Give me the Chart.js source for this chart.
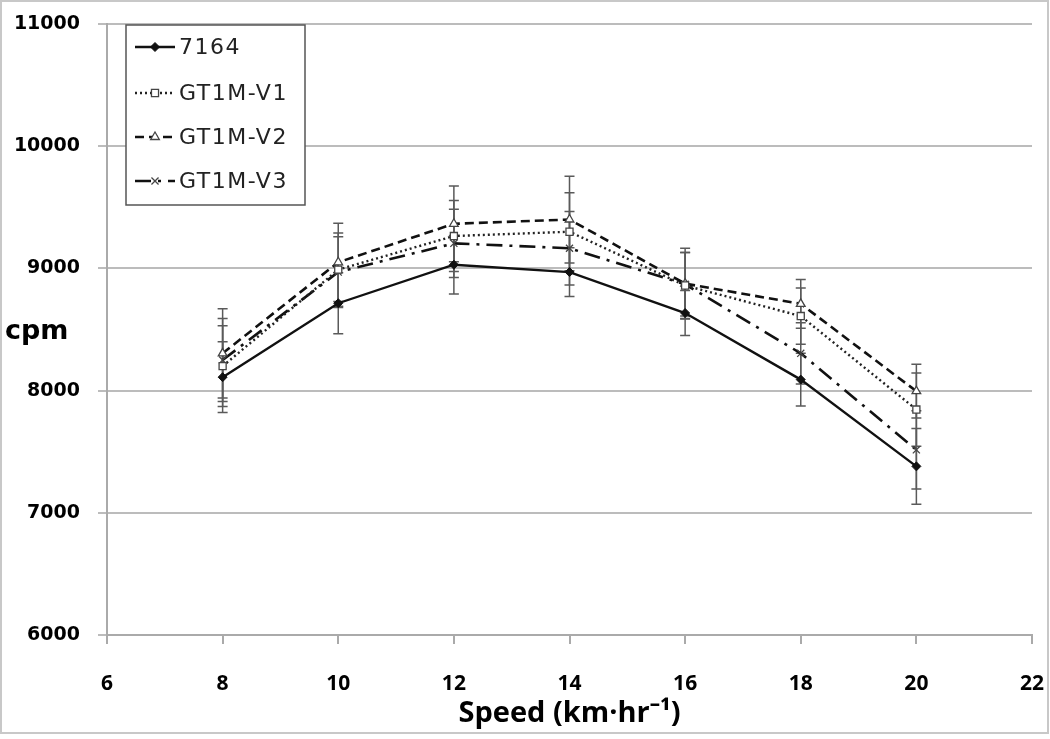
<!DOCTYPE html>
<html>
<head>
<meta charset="utf-8">
<script src="https://cdn.jsdelivr.net/npm/chart.js@4/dist/chart.umd.min.js"></script>
<style>
  html, body { margin: 0; padding: 0; background: #fff; }
  #wrap { width: 1050px; height: 739px; }
</style>
</head>
<body>
<div id="wrap"><canvas id="myChart" width="1050" height="739"></canvas></div>
<script>
// speeds (km/hr)
const speeds = [8, 10, 12, 14, 16, 18, 20];

// mean counts per minute for each monitor
const cpm7164 = [8110, 8715, 9030, 8970, 8635, 8090, 7380];
const cpmV1   = [8200, 8990, 9265, 9300, 8860, 8610, 7845];
const cpmV2   = [8305, 9050, 9365, 9400, 8875, 8710, 7995];
const cpmV3   = [8250, 8970, 9205, 9165, 8870, 8305, 7515];

// standard deviations (error bars)
const err7164 = [290, 250, 240, 200, 185, 215, 310];
const errV1   = [330, 300, 290, 320, 270, 230, 300];
const errV2   = [365, 320, 310, 355, 290, 200, 220];
const errV3   = [340, 290, 280, 300, 260, 250, 320];

const xTicks = [6, 8, 10, 12, 14, 16, 18, 20, 22];
const yTicks = [6000, 7000, 8000, 9000, 10000, 11000];

const pts = (ys) => speeds.map((s, i) => ({ x: s, y: ys[i] }));

const ctx = document.getElementById("myChart").getContext("2d");

// error bars drawn under the lines
const errorBars = {
  id: "errorBars",
  beforeDatasetsDraw(chart) {
    const { ctx, scales: { x, y } } = chart;
    ctx.save();
    ctx.strokeStyle = "#5a5a5a";
    ctx.lineWidth = 1.5;
    ctx.setLineDash([]);
    chart.data.datasets.forEach(ds => {
      ds.data.forEach((p, i) => {
        const px = x.getPixelForValue(p.x);
        const top = y.getPixelForValue(p.y + ds.err[i]);
        const bot = y.getPixelForValue(p.y - ds.err[i]);
        ctx.beginPath();
        ctx.moveTo(px, top); ctx.lineTo(px, bot);
        ctx.moveTo(px - 5, top); ctx.lineTo(px + 5, top);
        ctx.moveTo(px - 5, bot); ctx.lineTo(px + 5, bot);
        ctx.stroke();
      });
    });
    ctx.restore();
  }
};

// legend box inside the plot, "cpm" label and outer frame
const extras = {
  id: "extras",
  afterDraw(chart) {
    const { ctx, chartArea } = chart;
    ctx.save();

    // outer frame
    ctx.strokeStyle = "#c8c8c8";
    ctx.lineWidth = 2;
    ctx.strokeRect(1, 1, 1047, 732);

    // y label, horizontal
    ctx.fillStyle = "#000";
    ctx.font = "bold 27px 'DejaVu Sans'";
    ctx.textAlign = "left";
    ctx.textBaseline = "middle";
    ctx.fillText("cpm", 5, (chartArea.top + chartArea.bottom) / 2 + 2);

    // legend
    const bx = 126, by = 25, bw = 179, bh = 180;
    ctx.fillStyle = "#fff";
    ctx.fillRect(bx, by, bw, bh);
    ctx.strokeStyle = "#555";
    ctx.lineWidth = 1.5;
    ctx.strokeRect(bx, by, bw, bh);

    const rows = [47, 93, 137, 181];
    chart.data.datasets.forEach((ds, i) => {
      const yy = rows[i];
      ctx.strokeStyle = ds.borderColor;
      ctx.lineWidth = ds.borderWidth;
      ctx.setLineDash(ds.borderDash || []);
      ctx.beginPath();
      ctx.moveTo(135, yy); ctx.lineTo(175, yy);
      ctx.stroke();
      ctx.setLineDash([]);
      ctx.fillStyle = ds.pointBackgroundColor;
      ctx.strokeStyle = ds.pointBorderColor;
      ctx.lineWidth = ds.pointBorderWidth;
      Chart.helpers.drawPoint(ctx, {
        pointStyle: ds.pointStyle, radius: ds.pointRadius, rotation: 0, borderWidth: ds.pointBorderWidth
      }, 155, yy);
      ctx.fillStyle = "#222";
      ctx.font = "22px 'DejaVu Sans'";
      ctx.letterSpacing = "1.5px";
      ctx.textAlign = "left";
      ctx.textBaseline = "middle";
      ctx.fillText(ds.label, 179, yy + 1);
      ctx.letterSpacing = "0px";
    });
    ctx.restore();
  }
};

new Chart(ctx, {
  type: "line",
  data: {
    datasets: [
      {
        label: "7164", data: pts(cpm7164), err: err7164,
        borderColor: "#111", borderWidth: 2.4, borderDash: [],
        pointStyle: "rectRot", pointRadius: 4.5,
        pointBackgroundColor: "#111", pointBorderColor: "#111", pointBorderWidth: 1
      },
      {
        label: "GT1M-V1", data: pts(cpmV1), err: errV1,
        borderColor: "#222", borderWidth: 2.4, borderDash: [2, 3],
        pointStyle: "rect", pointRadius: 5,
        pointBackgroundColor: "#fff", pointBorderColor: "#444", pointBorderWidth: 1.3
      },
      {
        label: "GT1M-V2", data: pts(cpmV2), err: errV2,
        borderColor: "#111", borderWidth: 2.6, borderDash: [9, 5],
        pointStyle: "triangle", pointRadius: 5,
        pointBackgroundColor: "#fff", pointBorderColor: "#444", pointBorderWidth: 1.3
      },
      {
        label: "GT1M-V3", data: pts(cpmV3), err: errV3,
        borderColor: "#111", borderWidth: 2.6, borderDash: [16, 7, 3, 7],
        pointStyle: "crossRot", pointRadius: 5,
        pointBackgroundColor: "#fff", pointBorderColor: "#444", pointBorderWidth: 1.3
      }
    ]
  },
  options: {
    responsive: false,
    animation: false,
    layout: { padding: { left: 0, top: 24, right: 18, bottom: 0 } },
    plugins: {
      legend: { display: false },
      tooltip: { enabled: false }
    },
    scales: {
      x: {
        type: "linear",
        min: 6, max: 22,
        afterFit(scale) { scale.height = 104; scale.paddingLeft = 0; scale.paddingRight = 0; },
        afterBuildTicks(scale) { scale.ticks = xTicks.map(v => ({ value: v })); },
        ticks: {
          color: "#000",
          font: { family: "Open Sans", weight: "bold", size: 21 },
          padding: 27,
          maxRotation: 0
        },
        grid: { drawOnChartArea: false, drawTicks: true, tickLength: 9, color: "#aaa", lineWidth: 2 },
        border: { display: true, color: "#aaa", width: 2 },
        title: {
          display: true,
          text: "Speed (km·hr⁻¹)",
          color: "#000",
          font: { family: "Open Sans", weight: "bold", size: 29 },
          padding: { top: 0, bottom: 8 }
        }
      },
      y: {
        min: 6000, max: 11000,
        afterFit(scale) { scale.width = 107; scale.paddingTop = 0; scale.paddingBottom = 0; },
        afterBuildTicks(scale) { scale.ticks = yTicks.map(v => ({ value: v })); },
        ticks: {
          color: "#000",
          font: { family: "DejaVu Sans", weight: "bold", size: 19 },
          padding: 18,
          callback: v => String(v)
        },
        grid: { color: "#bcbcbc", lineWidth: 2, tickLength: 9 },
        border: { display: true, color: "#aaa", width: 2 }
      }
    }
  },
  plugins: [errorBars, extras]
});
</script>
</body>
</html>
